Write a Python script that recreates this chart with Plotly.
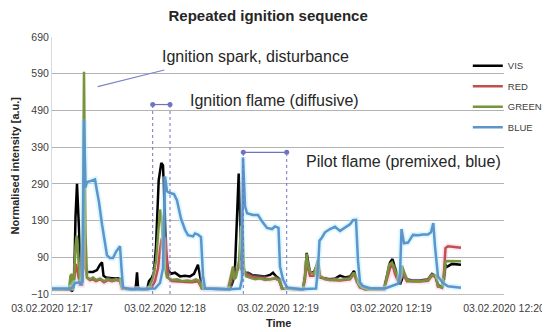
import plotly.graph_objects as go

# sample index (time axis) and normalised intensity values
vis_t = [0,18,20,21.5,22.5,23.5,25,26.5,28,29.3,30.5,32,33.5,35,41,45,48,50,51.5,54,60,66,69,71,83,84,85,86,88,95,97,100,102,104,106.7,109.3,111,112.7,114.3,116,119,123,128,133,138,142,146,148,150,178,181,183,184,185.7,186.7,188,189,191,196,200,206,213,218,221,224,228,230,251,253,254.7,256,258,262,265.7,268,273,278,283,288,293,298,302,304,308,313,332,334,338,340.5,343,345,348,350,352,355,360,368,376,380,383,386,390,392,393.5,395,400,409]
vis_v = [3,3,-3,10,67,200,290,200,67,25,20,280,60,50,50,55,70,76,40,35,33,33,30,5,3,15,49,10,3,3,25,35,50,120,300,347,340,230,100,56,45,48,38,40,38,45,70,40,5,3,25,60,138,292,318,210,60,48,48,42,40,38,42,48,38,30,5,3,40,102,80,49,50,72,35,33,30,32,40,35,38,53,35,12,5,5,30,76,85,60,44,16,30,45,30,27,27,30,45,40,15,8,30,70,64,72,70]

red_t = [0,18,20,22,24,26,28,30,32,33.5,35,38,41,44,48,52,56,60,64,68,70,96,100,103,106,108,109.5,113,114.5,116,120,128,134,140,146,150,176,179,181,183,185,187,189,191,194,198,203,208,213,218,223,227,230,251,253,254.7,256,258,262,266,268,278,288,298,302,305,308,313,332,334,338,340.5,343,346,350,352,355,368,376,380,384,386,390,392,393.5,396,403,409]
red_v = [3,3,10,30,72,40,15,15,150,60,35,28,30,25,30,22,28,25,28,25,5,3,10,25,60,110,138,138,70,35,25,25,23,22,25,5,3,30,50,45,55,62,80,50,45,38,35,33,30,30,32,28,5,3,30,80,60,40,40,65,35,28,27,30,45,22,8,3,3,20,60,70,45,25,55,40,25,24,26,40,36,10,8,50,115,120,118,116]

green_t = [0,17,18.5,20,21,22,23.5,24.7,26,27.5,29,30.5,32,33.5,35,38,41,44,48,52,56,60,64,68,70,74,96,98,101,104,106,108,109.5,111,113,115,120,125,130,135,140,144,147,150,176,179,181,182,184,187,189,190.5,192,194,198,203,208,213,218,223,227,230,251,253,254.7,256,258,262,266,268,273,278,283,288,293,298,302,305,308,313,332,334,337,340,343,346,348,350,352,355,360,368,376,380,384,386,390,392,393.5,396,409]
green_v = [3,3,40,44,0,20,120,149,100,40,20,30,595,150,35,30,35,28,32,25,30,27,30,28,8,3,3,15,35,80,150,220,200,120,60,35,28,30,25,27,25,30,25,5,3,40,65,30,35,80,175,170,60,38,35,30,33,28,30,33,28,5,3,40,100,70,50,45,84,40,30,28,30,28,30,32,48,25,10,3,3,25,70,76,55,35,30,67,50,28,25,25,28,42,40,11,8,40,79,80,79]

blue_t = [0,18,21,23,27,29,30.5,32,33.5,35,39,43,45,47,50,53,55,58,61,64,68,69.5,71,78,96,103,108,111,113,115,118,122,125,129,133,136,141,143,146,149,151,153,178,188,190,191,193,195,201,206,210,215,220,223,226.5,228,231,235,248,264,266,267.5,270,273,278,283,288,293,298,301,304,306,308,311,318,333,338,346,348,349.5,352,356,361,366,371,376,379,381.3,383,386,391,396,409]
blue_v = [5,5,8,20,22,15,30,465,280,295,298,302,270,240,180,125,95,88,88,105,120,60,8,3,3,5,20,60,310,270,265,262,245,195,165,150,147,155,152,145,40,5,3,5,30,362,230,210,205,205,188,170,167,174,170,65,30,8,3,5,60,135,144,158,167,173,162,170,180,191,192,80,22,12,6,5,10,18,40,167,128,130,151,150,152,152,158,183,120,38,20,11,7]

tick_vals = [0, 113, 226, 339, 452]
tick_text = ["03.02.2020 12:17", "03.02.2020 12:18", "03.02.2020 12:19",
             "03.02.2020 12:19", "03.02.2020 12:20"]
y_ticks = [-10, 90, 190, 290, 390, 490, 590, 690]

# annotation geometry (data units)
flame_span = [100.7, 118.0]
flame_level = 506
pilot_span = [191.3, 234.7]
pilot_level = 376
spark_line_t = [45.7, 112.3]
spark_line_v = [555, 600]

ann_color = "#6f74c0"

fig = go.Figure()

series = [
    ("VIS", vis_t, vis_v, "#000000", None),
    ("RED", red_t, red_v, "#c0504d", "rgba(247,175,215,0.35)"),
    ("GREEN", green_t, green_v, "#77933c", None),
    ("BLUE", blue_t, blue_v, "#5f93cc", "rgba(170,240,255,0.45)"),
]
for name, t, v, col, glow in series:
    if glow:
        fig.add_trace(go.Scatter(x=t, y=v, mode="lines", line=dict(color=glow, width=6),
                                 showlegend=False, hoverinfo="skip"))
    fig.add_trace(go.Scatter(x=t, y=v, mode="lines", name=name, legendgroup=name,
                             line=dict(color=col, width=2.5)))

# dashed vertical guide lines
for s in flame_span:
    fig.add_shape(type="line", x0=s, x1=s, y0=-10, y1=flame_level, xref="x", yref="y",
                  line=dict(color=ann_color, width=1, dash="dot"))
for s in pilot_span:
    fig.add_shape(type="line", x0=s, x1=s, y0=-10, y1=pilot_level, xref="x", yref="y",
                  line=dict(color=ann_color, width=1, dash="dot"))
# span arrows
fig.add_trace(go.Scatter(x=flame_span, y=[flame_level]*2, mode="lines+markers",
                         line=dict(color=ann_color, width=1.2),
                         marker=dict(color=ann_color, size=5), showlegend=False, hoverinfo="skip"))
fig.add_trace(go.Scatter(x=pilot_span, y=[pilot_level]*2, mode="lines+markers",
                         line=dict(color=ann_color, width=1.2),
                         marker=dict(color=ann_color, size=5), showlegend=False, hoverinfo="skip"))
# spark pointer
fig.add_trace(go.Scatter(x=spark_line_t, y=spark_line_v, mode="lines",
                         line=dict(color="#7a86c8", width=1.2), showlegend=False, hoverinfo="skip"))

txt_font = dict(family="Liberation Sans, Arial", size=16, color="#262626")
fig.add_annotation(x=108, y=636, xref="x", yref="y", text="Ignition spark, disturbance",
                   showarrow=False, xanchor="left", yanchor="middle", font=txt_font)
fig.add_annotation(x=136, y=516, xref="x", yref="y", text="Ignition flame (diffusive)",
                   showarrow=False, xanchor="left", yanchor="middle", font=txt_font)
fig.add_annotation(x=252, y=350, xref="x", yref="y", text="Pilot flame (premixed, blue)",
                   showarrow=False, xanchor="left", yanchor="middle", font=txt_font)

# axis titles
fig.add_annotation(x=-0.084, y=0.5, xref="paper", yref="paper", textangle=-90,
                   text="<b>Normalised intensity [a.u.]</b>", showarrow=False,
                   xanchor="center", yanchor="middle",
                   font=dict(family="Liberation Sans, Arial", size=11, color="#262626"))
fig.add_annotation(x=0.5, y=-0.112, xref="paper", yref="paper",
                   text="<b>Time</b>", showarrow=False, xanchor="center", yanchor="middle",
                   font=dict(family="Liberation Sans, Arial", size=11, color="#262626"))

fig.update_layout(
    width=550, height=332,
    margin=dict(l=44, r=54, t=29, b=46, autoexpand=False),
    paper_bgcolor="white", plot_bgcolor="white",
    font=dict(family="Liberation Sans, Arial", color="#404040", size=10.5),
    title=dict(text="<b>Repeated ignition sequence</b>", x=0.473, xanchor="center",
               y=0.978, yanchor="middle", font=dict(size=15, color="#262626")),
    showlegend=True,
    legend=dict(x=0.836, y=0.87, xref="container", yref="container",
                xanchor="left", yanchor="top",
                bgcolor="rgba(0,0,0,0)", font=dict(size=9.5, color="#404040"),
                itemwidth=30, tracegroupgap=1.5),
    xaxis=dict(range=[0, 452], tickvals=tick_vals, ticktext=tick_text, showgrid=False,
               zeroline=False, showline=True, linecolor="#bfbfbf", ticks="",
               ticklabelstandoff=4, automargin=False, tickfont=dict(size=10.5)),
    yaxis=dict(range=[-10, 690], tickvals=y_ticks, showgrid=True, gridcolor="#b3b3b3",
               zeroline=False, showline=True, linecolor="#d9d9d9", ticks="",
               automargin=False, tickfont=dict(size=10.5)),
)

fig.write_html("out.html")
